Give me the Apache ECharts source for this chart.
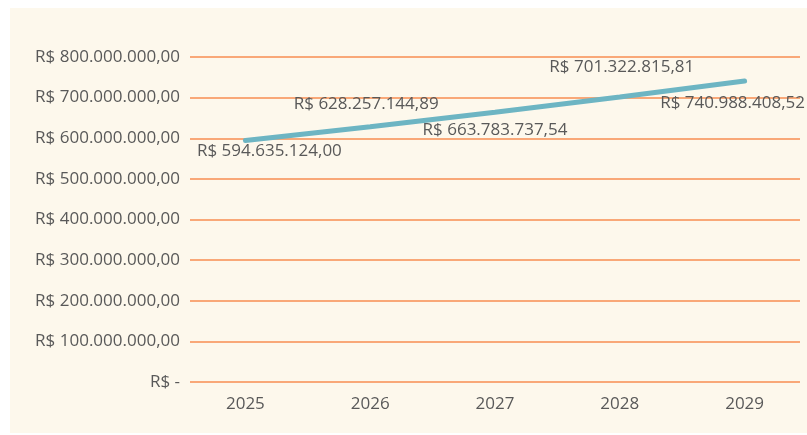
<!DOCTYPE html>
<html>
<head>
<meta charset="utf-8">
<script src="https://cdn.jsdelivr.net/npm/echarts@6/dist/echarts.min.js"></script>
<style>
  html, body { margin: 0; padding: 0; background: #ffffff; }
  #main { width: 807px; height: 435px; }
</style>
</head>
<body>
<div id="main"></div>
<script>
// dados
var anos = ['2025', '2026', '2027', '2028', '2029'];
var valores = [594635124.00, 628257144.89, 663783737.54, 701322815.81, 740988408.52];
var rotulos = ['R$ 594.635.124,00', 'R$ 628.257.144,89', 'R$ 663.783.737,54', 'R$ 701.322.815,81', 'R$ 740.988.408,52'];
var ticksY = ['R$ -', 'R$ 100.000.000,00', 'R$ 200.000.000,00', 'R$ 300.000.000,00', 'R$ 400.000.000,00',
  'R$ 500.000.000,00', 'R$ 600.000.000,00', 'R$ 700.000.000,00', 'R$ 800.000.000,00'];

var texto = '#595959';
var fonte = '"Open Sans", sans-serif';

// posicao de cada rotulo (acima / abaixo, alternado)
var pos = [
  { position: 'bottom', distance: 1, offset: [24, 0] },
  { position: 'top', distance: 13, offset: [-4, 0] },
  { position: 'bottom', distance: 8, offset: [0, 0] },
  { position: 'top', distance: 20, offset: [2, 0] },
  { position: 'bottom', distance: 13, offset: [-12, 0] }
];

var dados = valores.map(function (v, i) {
  return {
    value: v,
    label: {
      show: true,
      position: pos[i].position,
      distance: pos[i].distance,
      offset: pos[i].offset,
      formatter: rotulos[i]
    }
  };
});

var chart = echarts.init(document.getElementById('main'));
var option = {
  backgroundColor: '#ffffff',
  animation: false,
  graphic: [{
    type: 'rect',
    z: -10,
    silent: true,
    shape: { x: 10, y: 8, width: 797, height: 425 },
    style: { fill: '#FDF8EC' }
  }],
  grid: [
    { left: 190, right: 7, top: 57, bottom: 53 },
    { left: 183, right: 0, top: 57, bottom: 53 }
  ],
  xAxis: [
    { type: 'category', gridIndex: 0, data: anos, show: false },
    {
      type: 'category',
      gridIndex: 1,
      data: anos,
      axisLine: { show: false },
      axisTick: { show: false },
      axisLabel: { color: texto, fontSize: 17, fontFamily: fonte, margin: 14 }
    }
  ],
  yAxis: [
    {
      type: 'value',
      gridIndex: 0,
      min: 0,
      max: 800000000,
      interval: 100000000,
      axisLine: { show: false },
      axisTick: { show: false },
      axisLabel: {
        color: texto,
        fontSize: 17,
        fontFamily: fonte,
        margin: 10,
        formatter: function (v) {
          return ticksY[Math.round(v / 100000000)];
        }
      },
      splitLine: { lineStyle: { color: '#F9A878', width: 2 } }
    },
    {
      type: 'value',
      gridIndex: 1,
      min: 0,
      max: 800000000,
      show: false,
      splitLine: { show: false }
    }
  ],
  series: [{
    type: 'line',
    xAxisIndex: 1,
    yAxisIndex: 1,
    data: dados,
    symbol: 'circle',
    symbolSize: 2,
    showSymbol: true,
    showAllSymbol: true,
    lineStyle: { color: '#6DB5C3', width: 5, cap: 'round' },
    itemStyle: { color: '#6DB5C3' },
    label: {
      show: true,
      color: texto,
      fontSize: 17,
      fontFamily: fonte
    }
  }]
};
chart.setOption(option);
</script>
</body>
</html>
